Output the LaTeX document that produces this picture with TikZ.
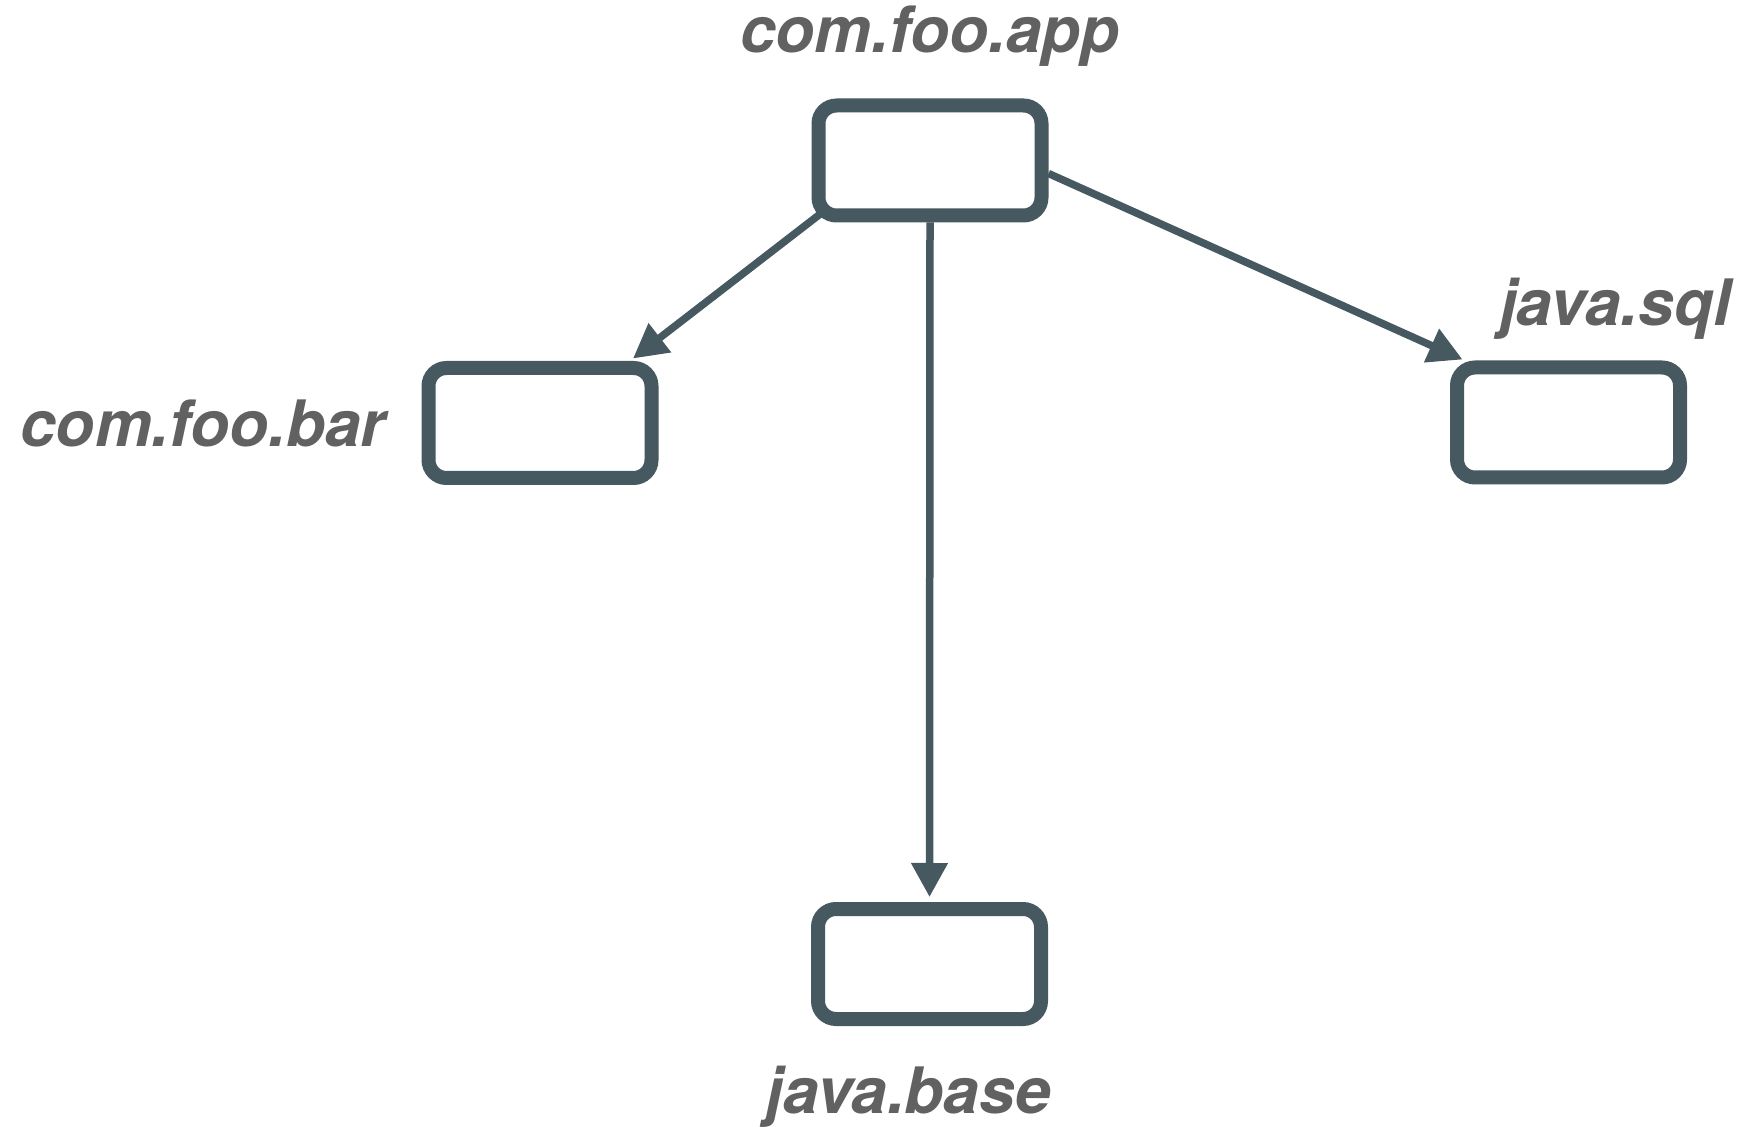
\documentclass[tikz,border=0pt]{standalone}
\usepackage{fontspec}
\setmainfont{TeX Gyre Heros}
\usetikzlibrary{arrows.meta}
\definecolor{boxcol}{HTML}{465860}
\definecolor{txtcol}{HTML}{616161}
\tikzset{
  modbox/.style={draw=boxcol, line width=7pt, rounded corners=9pt, fill=white,
    minimum width=111.5pt, minimum height=55pt, inner sep=0pt},
  modlabel/.style={text=txtcol, font=\fontsize{32pt}{36pt}\selectfont\bfseries\itshape,
    anchor=base, inner sep=0pt},
  dep/.style={draw=boxcol, line width=3.75pt, -{Triangle[length=17pt,width=17.5pt]}}
}
\begin{document}
\begin{tikzpicture}[x=0.5pt,y=-0.5pt]
\useasboundingbox (0,0) rectangle (1750,1127);
\node[modbox] (app) at (930,160.5) {};
\node[modbox] (bar) at (540,423) {};
\node[modbox] (sql) at (1568.5,422.5) {};
\node[modbox] (base) at (929.5,964) {};
\node[modlabel] (lapp) at (930,53) {com.foo.app};
\node[modlabel] (lbar) at (203,447) {com.foo.bar};
\node[modlabel] (lsql) at (1615,326) {java.sql};
\node[modlabel] (lbase) at (908,1113) {java.base};
\draw[dep] ([xshift=5pt,yshift=4.75pt]app.south west) -- ([xshift=46.5pt,yshift=1.25pt]bar.north);
\draw[dep] ([yshift=-6.5pt]app.east) -- ([xshift=-53pt,yshift=0.5pt]sql.north);
\draw[dep] (app.south) -- ([yshift=2.5pt]base.north);
\end{tikzpicture}
\end{document}
